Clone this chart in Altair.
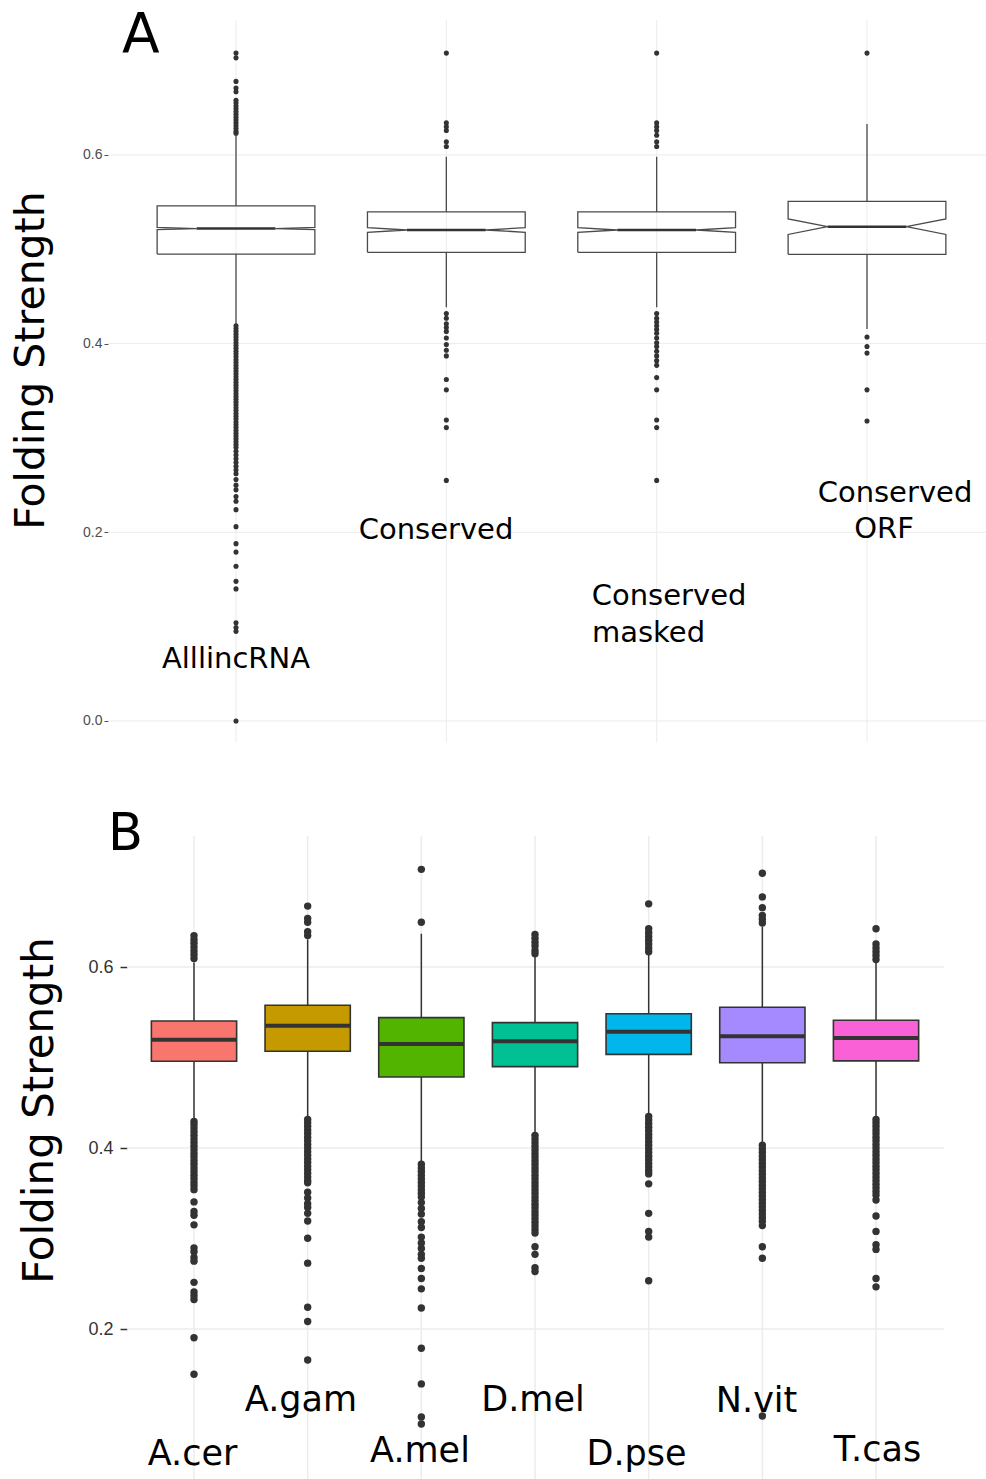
import altair as alt
import pandas as pd

# ---------------- Panel A data ----------------
a_cats = ["AlllincRNA", "Conserved", "Conserved masked", "Conserved ORF"]
a_q1 = [0.495, 0.4968, 0.4968, 0.4947]
a_med = [0.522, 0.5205, 0.5205, 0.524]
a_q3 = [0.546, 0.5396, 0.5396, 0.5509]
a_notch = [0.0012, 0.0024, 0.0024, 0.0082]
a_wlo = [0.420, 0.4386, 0.4386, 0.4155]
a_whi = [0.621, 0.598, 0.598, 0.6329]
a_out = [
    [0.708, 0.703, 0.678, 0.671, 0.667, 0.658, 0.655, 0.652, 0.649, 0.646, 0.643, 0.640,
     0.637, 0.634, 0.631, 0.628, 0.625, 0.623,
     0.419, 0.416, 0.413, 0.410, 0.407, 0.404, 0.401, 0.398, 0.395, 0.392, 0.389, 0.386,
     0.383, 0.380, 0.377, 0.374, 0.371, 0.368, 0.365, 0.362, 0.359, 0.356, 0.353, 0.350,
     0.347, 0.344, 0.341, 0.338, 0.335, 0.332, 0.329, 0.326, 0.323, 0.320, 0.317, 0.314,
     0.311, 0.308, 0.305, 0.302, 0.299, 0.296, 0.293, 0.290, 0.286, 0.282, 0.278, 0.274,
     0.270, 0.266, 0.262, 0.256, 0.250, 0.245, 0.238, 0.233, 0.224,
     0.206, 0.188, 0.179, 0.164, 0.148, 0.140, 0.104, 0.099, 0.095, 0.000],
    [0.708, 0.634, 0.630, 0.626, 0.614, 0.609,
     0.432, 0.427, 0.421, 0.417, 0.413, 0.406, 0.399, 0.393, 0.387, 0.362, 0.351, 0.319,
     0.311, 0.255],
    [0.708, 0.634, 0.630, 0.626, 0.621, 0.614, 0.609,
     0.432, 0.427, 0.423, 0.419, 0.415, 0.411, 0.406, 0.401, 0.397, 0.392, 0.387, 0.382,
     0.377, 0.364, 0.351, 0.319, 0.311, 0.255],
    [0.708, 0.407, 0.397, 0.390, 0.351, 0.318],
]
a_ticks = [0.0, 0.2, 0.4, 0.6]
a_label_text = ["AlllincRNA", "Conserved", "Conserved", "masked", "Conserved", "ORF"]
a_label_x = [1.0, 1.951, 3.059, 2.961, 4.133, 4.081]
a_label_y = [0.0562, 0.193, 0.123, 0.0837, 0.2322, 0.194]

# ---------------- Panel B data ----------------
b_cats = ["A.cer", "A.gam", "A.mel", "D.mel", "D.pse", "N.vit", "T.cas"]
b_colors = ["#F8766D", "#C49A00", "#53B400", "#00C094", "#00B6EB", "#A58AFF", "#FB61D7"]
b_q1 = [0.4959, 0.5069, 0.4785, 0.4899, 0.5035, 0.4942, 0.4963]
b_med = [0.5196, 0.5352, 0.5149, 0.5179, 0.5285, 0.5234, 0.5217]
b_q3 = [0.5403, 0.5577, 0.5441, 0.5386, 0.5484, 0.5556, 0.5412]
b_wlo = [0.4315, 0.4337, 0.3841, 0.4159, 0.4362, 0.4053, 0.4337]
b_whi = [0.6051, 0.6305, 0.6368, 0.6114, 0.6148, 0.6444, 0.6063]
b_out = [
    [0.6347, 0.6305, 0.6262, 0.622, 0.6178, 0.6135, 0.6093,
     0.4294, 0.426, 0.422, 0.418, 0.414, 0.410, 0.406, 0.402, 0.398, 0.394, 0.390, 0.386,
     0.382, 0.378, 0.374, 0.370, 0.366, 0.362, 0.358, 0.354,
     0.3405, 0.330, 0.3257, 0.3151, 0.2897, 0.2855, 0.2791, 0.275, 0.2516, 0.241, 0.2368,
     0.2326, 0.1903, 0.150],
    [0.6673, 0.6538, 0.6495, 0.6389, 0.6347,
     0.4315, 0.428, 0.424, 0.420, 0.416, 0.412, 0.408, 0.404, 0.400, 0.396, 0.392, 0.388,
     0.384, 0.380, 0.376, 0.372, 0.368, 0.364, 0.3617,
     0.3511, 0.3448, 0.3384, 0.3342, 0.3278, 0.3194, 0.3003, 0.2728, 0.2241, 0.2084, 0.1657],
    [0.7079, 0.6495,
     0.382, 0.378, 0.374, 0.370, 0.366, 0.362, 0.358, 0.354, 0.350, 0.346,
     0.3397, 0.3333, 0.327, 0.3185, 0.3122, 0.3016, 0.2952, 0.2889, 0.2825, 0.2783, 0.2669,
     0.2559, 0.2444, 0.2233, 0.1788, 0.1394, 0.1028, 0.095],
    [0.636, 0.6317, 0.6275, 0.6232, 0.6182, 0.6148,
     0.414, 0.410, 0.406, 0.402, 0.398, 0.394, 0.390, 0.386, 0.382, 0.378, 0.374, 0.370,
     0.366, 0.362, 0.358, 0.354, 0.350, 0.346, 0.342, 0.338, 0.334, 0.330, 0.326, 0.322,
     0.318, 0.314, 0.310, 0.306, 0.291, 0.2825, 0.2677, 0.2635],
    [0.6698, 0.6423, 0.638, 0.6338, 0.6296, 0.6254, 0.6211, 0.6169,
     0.435, 0.431, 0.427, 0.423, 0.419, 0.415, 0.411, 0.407, 0.403, 0.399, 0.395, 0.391,
     0.387, 0.383, 0.379, 0.375, 0.3714, 0.3604, 0.3278, 0.3079, 0.3016, 0.2534],
    [0.7037, 0.6775, 0.6656, 0.6571, 0.6529, 0.6487,
     0.4032, 0.399, 0.395, 0.391, 0.387, 0.383, 0.379, 0.375, 0.371, 0.367, 0.363, 0.359,
     0.355, 0.351, 0.347, 0.343, 0.339, 0.335, 0.331, 0.327, 0.323, 0.319, 0.3143,
     0.291, 0.2783, 0.1039],
    [0.6423, 0.6254, 0.6211, 0.6169, 0.6127, 0.6084,
     0.4315, 0.428, 0.424, 0.420, 0.416, 0.412, 0.408, 0.404, 0.400, 0.396, 0.392, 0.388,
     0.384, 0.380, 0.376, 0.372, 0.368, 0.364, 0.360, 0.356, 0.352, 0.348, 0.3426,
     0.3249, 0.3079, 0.2931, 0.288, 0.2559, 0.2466],
]
b_ticks = [0.2, 0.4, 0.6]
b_label_x = [0.987, 1.941, 2.988, 3.982, 4.893, 5.949, 7.013]
b_label_y = [0.0497, 0.1094, 0.053, 0.1094, 0.0497, 0.1083, 0.0541]

# ---------------- scales ----------------
A_XDOM = [0.3914, 4.5658]
A_YDOM = [-0.8036, 0.7431]
B_XDOM = [0.2434, 7.9675]
B_YDOM = [0.0343, 1.6464]


def xs(dom):
    return alt.Scale(domain=dom, nice=False, zero=False)


HALF = 0.375
INSET = 0.1875
FONT = "DejaVu Sans"
gridc = "#ececec"

# ---------------- Panel A tables ----------------
a_stats = pd.DataFrame({
    "cat": a_cats, "pos": [1, 2, 3, 4], "q1": a_q1, "med": a_med, "q3": a_q3,
    "wlo": a_wlo, "whi": a_whi,
})
a_stats["mlo"] = a_stats["pos"] - INSET
a_stats["mhi"] = a_stats["pos"] + INSET
a_stats["glo"] = -0.023
a_stats["ghi"] = A_YDOM[1]

poly_rows = []
for i, c in enumerate(a_cats):
    p = i + 1
    lo, hi = a_med[i] - a_notch[i], a_med[i] + a_notch[i]
    verts = [
        (p - HALF, a_q1[i]), (p - HALF, lo), (p - INSET, a_med[i]), (p - HALF, hi),
        (p - HALF, a_q3[i]), (p + HALF, a_q3[i]), (p + HALF, hi), (p + INSET, a_med[i]),
        (p + HALF, lo), (p + HALF, a_q1[i]), (p - HALF, a_q1[i]),
    ]
    for k, (vx, vy) in enumerate(verts):
        poly_rows.append({"cat": c, "k": k, "px": vx, "py": vy})
a_poly = pd.DataFrame(poly_rows)

a_pts = pd.DataFrame([
    {"cat": c, "pos": i + 1, "v": v} for i, c in enumerate(a_cats) for v in a_out[i]
])
a_lab = pd.DataFrame({"t": a_label_text, "lx": a_label_x, "ly": a_label_y})
a_grid = pd.DataFrame({"v": a_ticks})


def AX(f):
    return alt.X(f, scale=xs(A_XDOM), axis=None)


def AY(f, axis=None):
    return alt.Y(f, scale=xs(A_YDOM), axis=axis)


a_axis = alt.Axis(
    orient="left",
    values=a_ticks, format=".1f", title="Folding Strength", grid=False, domain=False,
    labelFont="Liberation Sans", labelFontSize=14, labelColor="#4d4d4d", labelPadding=2,
    tickSize=4, tickColor="#4d4d4d", tickWidth=1,
    titleFont=FONT, titleFontSize=41, titleFontWeight="normal", titleColor="black",
    titleAngle=270, titleAlign="center", titleBaseline="alphabetic",
    titleX=-65, titleY=340)

a_hgrid = alt.Chart(a_grid).mark_rule(color=gridc, strokeWidth=1).encode(
    y=AY("v:Q", a_axis),
)
a_vgrid = alt.Chart(a_stats).mark_rule(color=gridc, strokeWidth=1).encode(
    x=AX("pos:Q"), y=AY("glo:Q"), y2="ghi:Q",
)
a_wh1 = alt.Chart(a_stats).mark_rule(color="#4a4a4a", strokeWidth=1.3).encode(
    x=AX("pos:Q"), y=AY("wlo:Q"), y2="q1:Q",
)
a_wh2 = alt.Chart(a_stats).mark_rule(color="#4a4a4a", strokeWidth=1.3).encode(
    x=AX("pos:Q"), y=AY("q3:Q"), y2="whi:Q",
)
a_box = alt.Chart(a_poly).mark_line(color="#4a4a4a", strokeWidth=1.3, strokeJoin="miter").encode(
    x=AX("px:Q"), y=AY("py:Q"), detail="cat:N", order=alt.Order("k:Q"),
)
a_medl = alt.Chart(a_stats).mark_rule(color="#333333", strokeWidth=2.6).encode(
    x=AX("mlo:Q"), x2="mhi:Q", y=AY("med:Q"),
)
a_outl = alt.Chart(a_pts).mark_circle(color="#333333", size=26, opacity=1).encode(
    x=AX("pos:Q"), y=AY("v:Q"),
)
a_text = alt.Chart(a_lab).mark_text(font=FONT, fontSize=29, color="black",
                                    align="center", baseline="alphabetic").encode(
    x=AX("lx:Q"), y=AY("ly:Q"), text="t:N",
)
a_letter = alt.Chart(pd.DataFrame({"t": ["A"], "lx": [0.458], "ly": [0.7092]})).mark_text(
    font=FONT, fontSize=55, color="black", align="left", baseline="alphabetic").encode(
    x=AX("lx:Q"), y=AY("ly:Q"), text="t:N",
)

# ---------------- Panel B tables ----------------
b_stats = pd.DataFrame({
    "cat": b_cats, "pos": list(range(1, 8)), "q1": b_q1, "med": b_med, "q3": b_q3,
    "wlo": b_wlo, "whi": b_whi,
})
b_stats["left"] = b_stats["pos"] - HALF
b_stats["right"] = b_stats["pos"] + HALF
b_stats["glo"] = B_YDOM[0]
b_stats["ghi"] = 0.7448
b_pts = pd.DataFrame([
    {"cat": c, "pos": i + 1, "v": v} for i, c in enumerate(b_cats) for v in b_out[i]
])
b_lab = pd.DataFrame({"t": b_cats, "lx": b_label_x, "ly": b_label_y})
b_grid = pd.DataFrame({"v": b_ticks})
b_grid["xlo"] = 0.4106
b_grid["xhi"] = 7.598


def BX(f):
    return alt.X(f, scale=xs(B_XDOM), axis=None)


def BY(f, axis=None):
    return alt.Y(f, scale=xs(B_YDOM), axis=axis)


b_axis = alt.Axis(
    orient="left",
    values=b_ticks, format=".1f", title="Folding Strength", grid=False, domain=False,
    offset=-19,
    labelFont="Liberation Sans", labelFontSize=18, labelColor="#333333", labelPadding=7,
    tickSize=7, tickColor="#333333", tickWidth=1.5,
    titleFont=FONT, titleFontSize=42, titleFontWeight="normal", titleColor="black",
    titleAngle=270, titleAlign="center", titleBaseline="alphabetic",
    titleX=-75, titleY=1090)

b_hgrid = alt.Chart(b_grid).mark_rule(color=gridc, strokeWidth=1.5).encode(
    x=BX("xlo:Q"), x2="xhi:Q", y=BY("v:Q", b_axis),
)
b_vgrid = alt.Chart(b_stats).mark_rule(color=gridc, strokeWidth=1.5).encode(
    x=BX("pos:Q"), y=BY("glo:Q"), y2="ghi:Q",
)
b_wh = alt.Chart(b_stats).mark_rule(color="#333333", strokeWidth=1.5).encode(
    x=BX("pos:Q"), y=BY("wlo:Q"), y2="whi:Q",
)
b_box = alt.Chart(b_stats).mark_rect(stroke="#333333", strokeWidth=1.6).encode(
    x=BX("left:Q"), x2="right:Q", y=BY("q1:Q"), y2="q3:Q",
    fill=alt.Fill("cat:N", scale=alt.Scale(domain=b_cats, range=b_colors), legend=None),
)
b_medl = alt.Chart(b_stats).mark_rule(color="#333333", strokeWidth=4).encode(
    x=BX("left:Q"), x2="right:Q", y=BY("med:Q"),
)
b_outl = alt.Chart(b_pts).mark_circle(color="#333333", size=55, opacity=1).encode(
    x=BX("pos:Q"), y=BY("v:Q"),
)
b_text = alt.Chart(b_lab).mark_text(font=FONT, fontSize=35, color="black",
                                    align="center", baseline="alphabetic").encode(
    x=BX("lx:Q"), y=BY("ly:Q"), text="t:N",
)
b_letter = alt.Chart(pd.DataFrame({"t": ["B"], "lx": [0.2434], "ly": [0.7293]})).mark_text(
    font=FONT, fontSize=51, color="black", align="left", baseline="alphabetic").encode(
    x=BX("lx:Q"), y=BY("ly:Q"), text="t:N",
)

chart = alt.layer(
    a_hgrid, a_vgrid, a_wh1, a_wh2, a_box, a_medl, a_outl, a_text, a_letter,
    b_hgrid, b_vgrid, b_wh, b_box, b_medl, b_outl, b_text, b_letter,
).resolve_scale(
    x="independent", y="independent"
).properties(
    width=878, height=1459,
    autosize=alt.AutoSizeParams(type="none"),
    padding={"left": 108, "top": 20, "right": 0, "bottom": 0},
    background="white",
).configure_view(stroke=None)

chart.save("out.html", embed_options={"renderer": "svg", "actions": False})
